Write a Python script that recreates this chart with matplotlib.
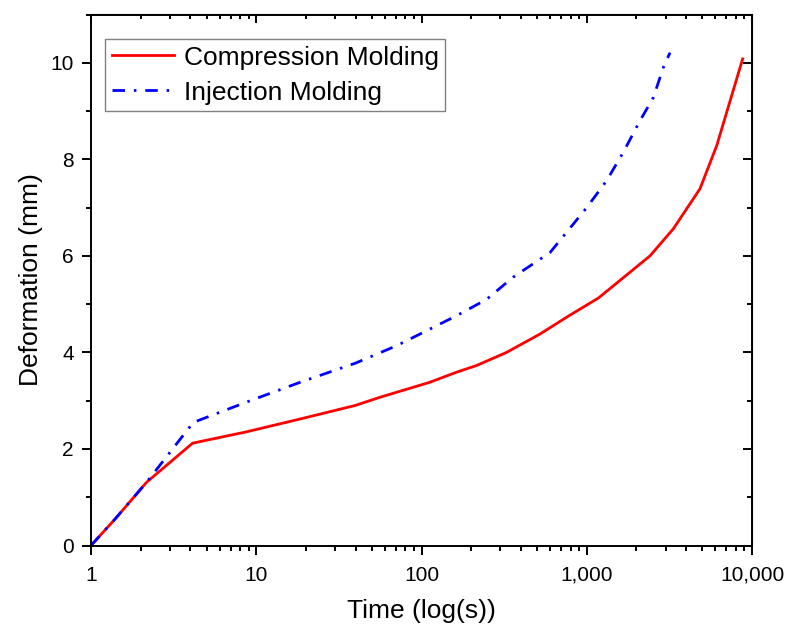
import matplotlib
matplotlib.use('Agg')
import matplotlib.pyplot as plt
from matplotlib.ticker import FixedLocator, FuncFormatter, LogLocator, MultipleLocator

# Compression molding (red, solid)
comp_time = [1, 1.4, 2.17, 4.12, 8.6, 18.4, 39.6, 56, 112, 163, 216, 327, 521, 756,
             1180, 2414, 3340, 4845, 6112, 8780]
comp_def = [0, 0.55, 1.31, 2.12, 2.35, 2.62, 2.90, 3.07, 3.38, 3.59, 3.73, 4.0, 4.38,
            4.73, 5.13, 6.0, 6.56, 7.39, 8.28, 10.08]

# Injection molding (blue, dash-dot)
inj_time = [1, 1.4, 2.17, 4.16, 9.2, 18.4, 40, 70.8, 163, 248, 359, 600, 1000, 1320,
            1660, 2100, 2530, 2905, 3190]
inj_def = [0, 0.55, 1.31, 2.55, 3.0, 3.38, 3.78, 4.14, 4.76, 5.1, 5.56, 6.07, 7.0, 7.56,
           8.14, 8.8, 9.28, 9.9, 10.21]

x_ticks = [1, 10, 100, 1000, 10000]

plt.rcParams['font.family'] = ['Liberation Sans', 'DejaVu Sans']

fig = plt.figure(figsize=(7.88, 6.3), dpi=100)
ax = fig.add_axes([91 / 788, 1 - 545.5 / 630, (752 - 91) / 788, (545.5 - 14.5) / 630])

ax.plot(comp_time, comp_def, color='#ff0000', lw=2.0, label='Compression Molding')
ax.plot(inj_time, inj_def, color='#0000ff', lw=2.0, linestyle=(0, (4.5, 3.2, 0.9, 3.2)),
        label='Injection Molding')

ax.set_xscale('log')
ax.set_xlim(1, 10000)
ax.set_ylim(0, 11)

ax.xaxis.set_major_locator(FixedLocator(x_ticks))
ax.xaxis.set_major_formatter(FuncFormatter(lambda v, p: f'{int(round(v)):,}'))
ax.xaxis.set_minor_locator(LogLocator(base=10, subs=range(2, 10)))
ax.xaxis.set_minor_formatter(FuncFormatter(lambda v, p: ''))
ax.yaxis.set_major_locator(MultipleLocator(2))
ax.yaxis.set_minor_locator(MultipleLocator(1))

for side in ['left', 'right', 'top', 'bottom']:
    ax.spines[side].set_linewidth(1.4)

ax.tick_params(which='both', direction='out', width=1.4, labelsize=15,
               top=False, right=False)
ax.tick_params(axis='x', pad=8)
ax.tick_params(axis='y', pad=6)
ax.tick_params(which='major', length=6.5)
ax.tick_params(which='minor', length=3.6)

# mirrored inward ticks on top and right
ax_top = ax.secondary_xaxis('top')
ax_top.xaxis.set_major_locator(FixedLocator(x_ticks))
ax_top.xaxis.set_minor_locator(LogLocator(base=10, subs=range(2, 10)))
ax_top.tick_params(which='both', direction='in', width=1.4, labeltop=False)
ax_top.tick_params(which='major', length=6.5)
ax_top.tick_params(which='minor', length=3.6)
ax_right = ax.secondary_yaxis('right')
ax_right.yaxis.set_major_locator(MultipleLocator(2))
ax_right.yaxis.set_minor_locator(MultipleLocator(1))
ax_right.tick_params(which='both', direction='in', width=1.4, labelright=False)
ax_right.tick_params(which='major', length=6.5)
ax_right.tick_params(which='minor', length=3.6)

ax.set_xlabel('Time (log(s))', fontsize=19, labelpad=10)
ax.set_ylabel('Deformation (mm)', fontsize=19, labelpad=5)

leg = ax.legend(loc='upper left', bbox_to_anchor=(14 / 661, 1 - 24.5 / 531),
                borderaxespad=0, fontsize=19, fancybox=False, edgecolor='#808080',
                framealpha=1, handlelength=2.35, borderpad=0.25, labelspacing=0.42,
                handletextpad=0.38)
leg.get_frame().set_linewidth(1.0)

fig.savefig('out.png', dpi=100)
